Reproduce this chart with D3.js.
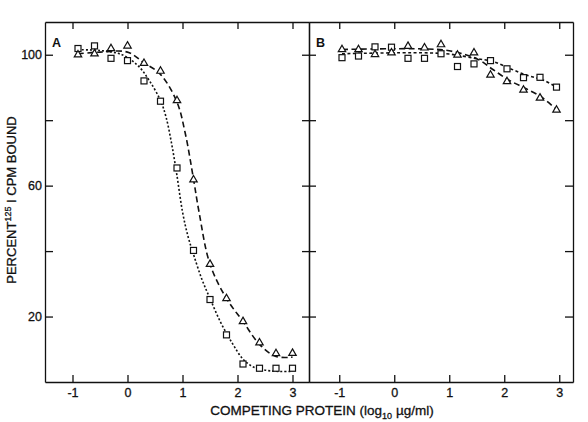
<!DOCTYPE html>
<html>
<head>
<meta charset="utf-8">
<script src="https://cdn.jsdelivr.net/npm/d3@7"></script>
<style>
  body { margin: 0; background: #fff; }
  svg { display: block; }
  text { font-family: "Liberation Sans", Arial, Helvetica, sans-serif; fill: #111; }
  .axis path, .axis line { stroke: #111; stroke-width: 1.3; }
  .axis text { font-size: 12.5px; stroke: #111; stroke-width: 0.3; }
  .title { stroke: #111; stroke-width: 0.3; }
</style>
</head>
<body>
<svg id="chart" width="588" height="422"></svg>
<script>
/* data */
var xTicks = [-1, 0, 1, 2, 3];
var yTicks = [20, 40, 60, 80, 100];
var yLabelled = [20, 60, 100];

// panel A, measured points
var doseA = [-0.9, -0.6, -0.3, 0, 0.3, 0.6, 0.9, 1.2, 1.5, 1.8, 2.1, 2.4, 2.7, 3.0];
var squaresA   = [101.9, 102.7, 98.9, 98.2, 92.0, 85.8, 65.4, 40.2, 25.2, 14.4, 5.5, 4.2, 4.2, 4.2];
var trianglesA = [100.0, 100.3, 101.9, 102.7, 97.4, 95.0, 86.0, 61.8, 36.0, 25.5, 18.5, 12.0, 8.7, 8.8];

// panel A, fitted curves as drawn
var fitSqA_x = [-0.9, -0.5, -0.1, 0.2, 0.4, 0.6, 0.7, 0.8, 0.9, 1.0, 1.1, 1.2, 1.35, 1.5, 1.7, 1.9, 2.1, 2.3, 2.6, 3.0];
var fitSqA_y = [101.5, 101.3, 100.0, 96.5, 92.0, 86.0, 81.0, 73.0, 63.0, 52.0, 44.5, 39.0, 31.5, 25.5, 18.0, 12.0, 7.0, 4.5, 3.4, 3.2];
var fitTrA_x = [-0.9, -0.5, 0, 0.3, 0.6, 0.9, 1.05, 1.2, 1.3, 1.5, 1.8, 2.1, 2.4, 2.7, 3.0];
var fitTrA_y = [100.3, 100.8, 100.8, 97.5, 94.0, 85.5, 76.0, 62.0, 52.0, 36.0, 25.5, 18.5, 11.5, 7.8, 7.6];

// panel B, measured points
var doseB = [-0.95, -0.65, -0.35, -0.05, 0.25, 0.55, 0.85, 1.15, 1.45, 1.75, 2.05, 2.35, 2.65, 2.95];
var squaresB   = [99.1, 99.6, 102.4, 102.3, 98.9, 98.9, 100.3, 96.4, 97.2, 98.2, 95.7, 93.0, 93.1, 90.1];
var trianglesB = [101.6, 101.6, 100.1, 100.6, 102.6, 102.1, 103.1, 99.9, 100.6, 93.8, 91.8, 89.2, 86.8, 83.1];

// panel B, fitted curves as drawn
var fitSqB_x = [-0.95, 0.5, 1.0, 1.5, 1.8, 2.1, 2.4, 2.7, 2.95];
var fitSqB_y = [100.3, 100.6, 100.2, 98.8, 97.9, 95.8, 93.8, 92.3, 90.1];
var fitTrB_x = [-0.95, 0.5, 1.0, 1.5, 1.8, 2.1, 2.4, 2.7, 2.95];
var fitTrB_y = [101.6, 101.8, 101.2, 98.8, 95.4, 92.1, 89.6, 86.8, 83.2];

(function () {
  /* layout */
  var frameTop = 22, frameBottom = 382, frameLeft = 45, frameMid = 309, frameRight = 573;

  var svg = d3.select("#chart");

  var y = d3.scaleLinear().domain([0, 110]).range([frameBottom, frameTop]);
  var xA = d3.scaleLinear().domain([-1.5, 3.3]).range([frameLeft, frameMid]);
  var xB = d3.scaleLinear().domain([-1.55, 3.25]).range([frameMid, frameRight]);

  function zip(xs, ys) { return xs.map(function (d, i) { return [d, ys[i]]; }); }

  function drawPanel(x, x0, name) {
    // bottom axis with labels, ticks inward
    svg.append("g").attr("class", "axis")
      .attr("transform", "translate(0," + frameBottom + ")")
      .call(d3.axisBottom(x).tickValues(xTicks).tickSizeInner(-7).tickSizeOuter(0).tickPadding(6)
        .tickFormat(function (d) { return String(d); }));
    // top axis, ticks inward
    svg.append("g").attr("class", "axis")
      .attr("transform", "translate(0," + frameTop + ")")
      .call(d3.axisTop(x).tickValues(xTicks).tickSizeInner(-7).tickSizeOuter(0).tickFormat(""));

    svg.append("text")
      .attr("x", x0 + 7).attr("y", 47)
      .style("font-size", "12.5px").style("font-weight", "bold")
      .text(name);
  }

  drawPanel(xA, frameLeft, "A");
  drawPanel(xB, frameMid, "B");

  // left axis of panel A with labels
  svg.append("g").attr("class", "axis")
    .attr("transform", "translate(" + frameLeft + ",0)")
    .call(d3.axisLeft(y).tickValues(yTicks).tickSizeInner(-8).tickSizeOuter(0).tickPadding(3)
      .tickFormat(function (d) { return yLabelled.indexOf(d) >= 0 ? d : ""; }));

  // divider with ticks crossing both sides
  svg.append("g").attr("class", "axis")
    .attr("transform", "translate(" + frameMid + ",0)")
    .call(d3.axisLeft(y).tickValues(yTicks).tickSize(7).tickSizeOuter(0).tickFormat(""));
  svg.append("g").attr("class", "axis")
    .attr("transform", "translate(" + frameMid + ",0)")
    .call(d3.axisRight(y).tickValues(yTicks).tickSize(7).tickSizeOuter(0).tickFormat(""));

  // right edge, ticks inward
  svg.append("g").attr("class", "axis")
    .attr("transform", "translate(" + frameRight + ",0)")
    .call(d3.axisRight(y).tickValues(yTicks).tickSizeInner(-8).tickSizeOuter(0).tickFormat(""));

  /* curves */
  function curve(x, pts, dash) {
    var line = d3.line()
      .x(function (d) { return x(d[0]); })
      .y(function (d) { return y(d[1]); })
      .curve(d3.curveCatmullRom.alpha(0.5));
    svg.append("path")
      .datum(pts)
      .attr("d", line)
      .attr("fill", "none")
      .attr("stroke", "#111")
      .attr("stroke-width", 1.6)
      .attr("stroke-dasharray", dash);
  }

  curve(xA, zip(fitSqA_x, fitSqA_y), "2,2");
  curve(xA, zip(fitTrA_x, fitTrA_y), "6,3.5");
  curve(xB, zip(fitSqB_x, fitSqB_y), "3,2.5");
  curve(xB, zip(fitTrB_x, fitTrB_y), "6,3.5");

  /* markers */
  function squares(x, xs, ys) {
    svg.append("g").selectAll("rect")
      .data(zip(xs, ys))
      .enter().append("rect")
        .attr("x", function (d) { return x(d[0]) - 3; })
        .attr("y", function (d) { return y(d[1]) - 3; })
        .attr("width", 6).attr("height", 6)
        .attr("fill", "#fff").attr("stroke", "#111").attr("stroke-width", 1.2);
  }

  var tri = d3.symbol().type(d3.symbolTriangle).size(24);
  function triangles(x, xs, ys) {
    svg.append("g").selectAll("path")
      .data(zip(xs, ys))
      .enter().append("path")
        .attr("d", tri)
        .attr("transform", function (d) { return "translate(" + x(d[0]) + "," + y(d[1]) + ")"; })
        .attr("fill", "#fff").attr("stroke", "#111").attr("stroke-width", 1.2);
  }

  squares(xA, doseA, squaresA);
  triangles(xA, doseA, trianglesA);
  squares(xB, doseB, squaresB);
  triangles(xB, doseB, trianglesB);

  /* axis titles */
  var yTitle = svg.append("text")
    .attr("class", "title")
    .attr("transform", "translate(16,200) rotate(-90)")
    .attr("text-anchor", "middle")
    .style("font-size", "13px");
  yTitle.append("tspan").text("PERCENT");
  yTitle.append("tspan").attr("dy", -5).style("font-size", "9px").text("125");
  yTitle.append("tspan").attr("dy", 5).text(" I CPM BOUND");

  var xTitle = svg.append("text")
    .attr("class", "title")
    .attr("x", 322).attr("y", 415)
    .attr("text-anchor", "middle")
    .style("font-size", "13.5px");
  xTitle.append("tspan").text("COMPETING PROTEIN (log");
  xTitle.append("tspan").attr("dy", 4).style("font-size", "9px").text("10");
  xTitle.append("tspan").attr("dy", -4).text(" \u00b5g/ml)");
})();
</script>
</body>
</html>
